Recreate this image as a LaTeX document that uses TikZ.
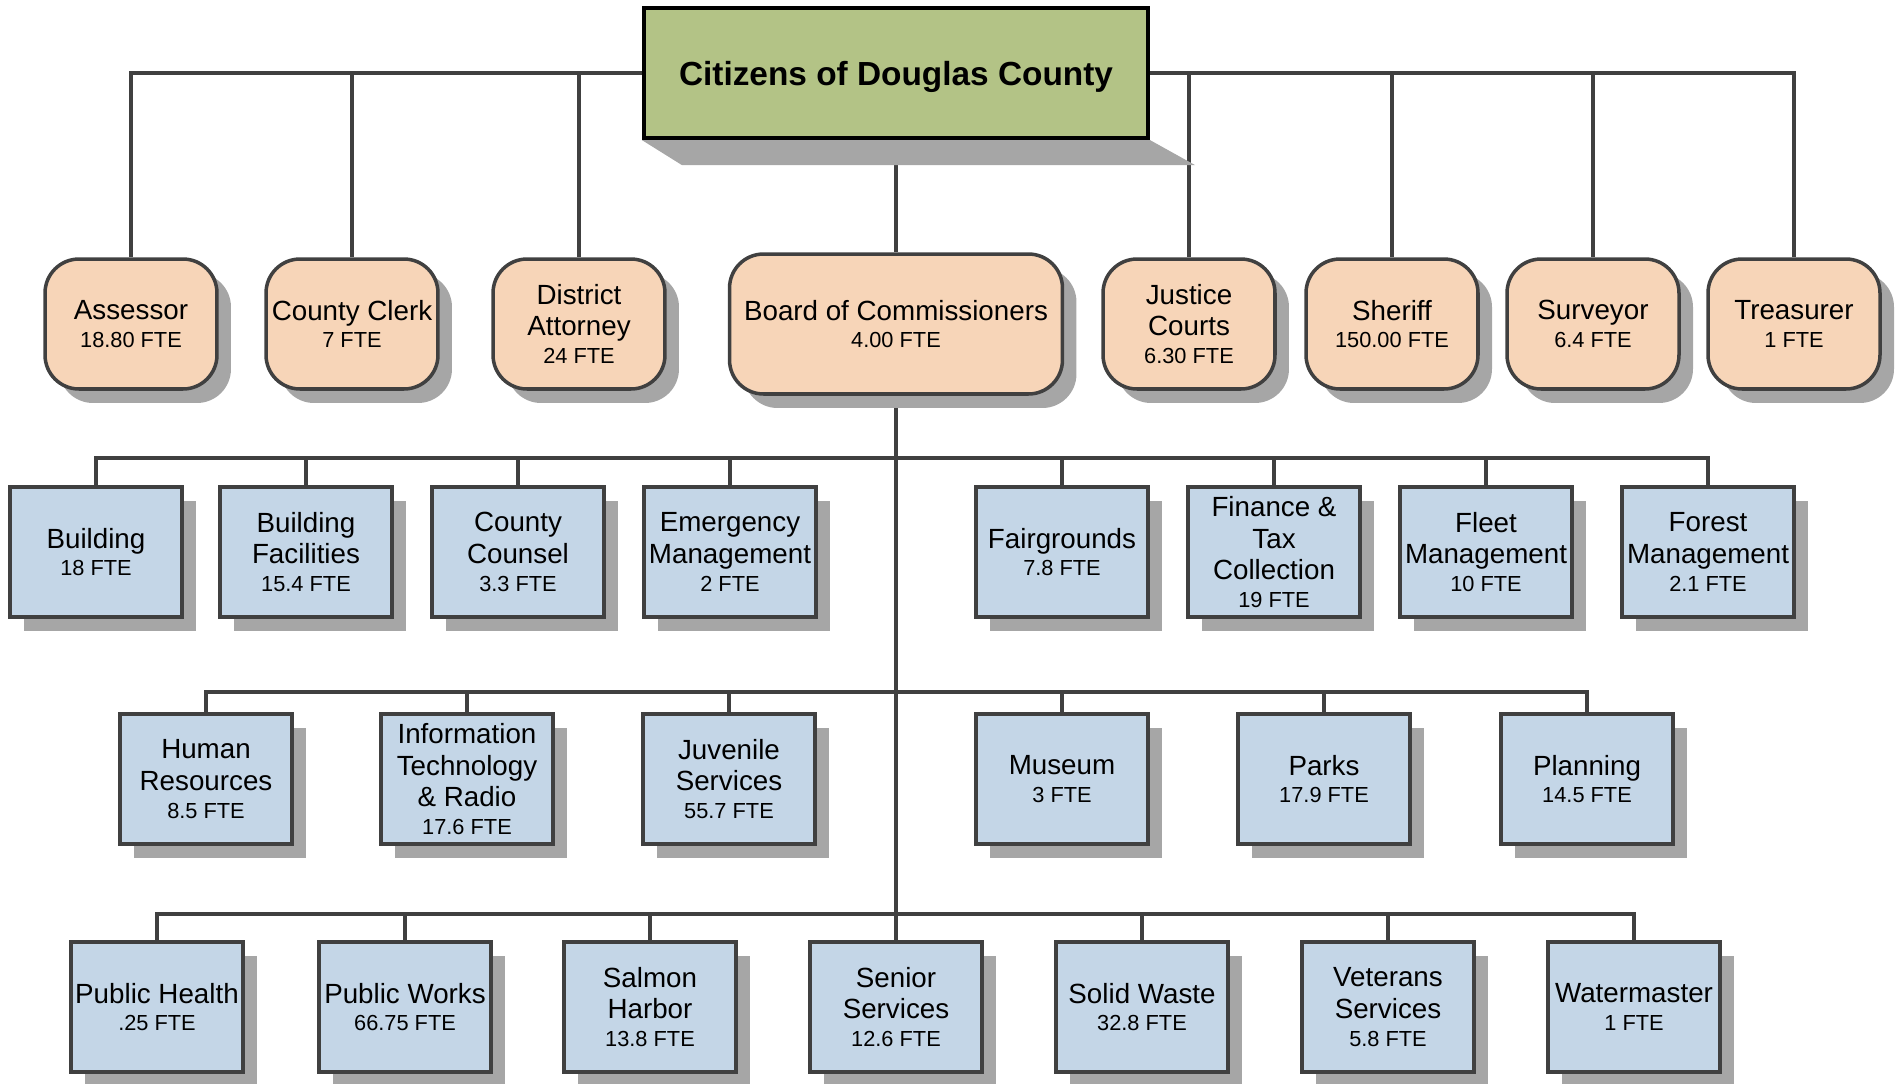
\documentclass[tikz,border=0pt]{standalone}
\usepackage{fontspec}
\setmainfont{Liberation Sans}
\usetikzlibrary{shadows,backgrounds}
\definecolor{officefill}{RGB}{247,213,184}
\definecolor{deptfill}{RGB}{196,214,231}
\definecolor{citizenfill}{RGB}{179,195,134}
\definecolor{linegray}{RGB}{64,64,64}
\definecolor{shadowgray}{RGB}{166,166,166}
\newcommand{\ftesize}{\fontsize{12.4}{14}\selectfont}

\begin{document}
\begin{tikzpicture}[x=0.02cm,y=-0.02cm]
    \tikzstyle{box} = [rectangle, draw=linegray, line width=2pt, text centered, align=center, inner sep=1pt, minimum width=3.44cm, minimum height=2.6cm, font=\fontsize{15.8}{17.9}\selectfont, drop shadow={shadow xshift=0.28cm, shadow yshift=-0.28cm, fill=shadowgray, opacity=1}]
    \tikzstyle{office} = [box, fill=officefill, rounded corners=0.68cm]
    \tikzstyle{dept} = [box, fill=deptfill]
    \tikzstyle{connector} = [draw=linegray, line width=2pt]

    \useasboundingbox (0,0) rectangle (1899,1083);

    \node (citizens) [rectangle, draw=black, line width=2.4pt, fill=citizenfill, minimum width=10.08cm, minimum height=2.6cm, text depth=0pt, font=\bfseries\fontsize{19}{22}\selectfont] at (896,73) {Citizens of Douglas County};

    % elected offices
    \node (assessor) [office] at (131,324) {Assessor\\[-2.1pt]\ftesize 18.80 FTE};
    \node (clerk) [office] at (352,324) {County Clerk\\[-2.1pt]\ftesize 7 FTE};
    \node (da) [office] at (579,324) {District\\Attorney\\[-2.1pt]\ftesize 24 FTE};
    \node (board) [office, minimum width=6.66cm, minimum height=2.8cm] at (896,324) {Board of Commissioners\\[-2.1pt]\ftesize 4.00 FTE};
    \node (justice) [office] at (1189,324) {Justice\\Courts\\[-2.1pt]\ftesize 6.30 FTE};
    \node (sheriff) [office] at (1392,324) {Sheriff\\[-2.1pt]\ftesize 150.00 FTE};
    \node (surveyor) [office] at (1593,324) {Surveyor\\[-2.1pt]\ftesize 6.4 FTE};
    \node (treasurer) [office] at (1794,324) {Treasurer\\[-2.1pt]\ftesize 1 FTE};

    % departments
    \node (building) [dept] at (96,552) {Building\\[-2.1pt]\ftesize 18 FTE};
    \node (facilities) [dept] at (306,552) {Building\\Facilities\\[-2.1pt]\ftesize 15.4 FTE};
    \node (counsel) [dept] at (518,552) {County\\Counsel\\[-2.1pt]\ftesize 3.3 FTE};
    \node (emergency) [dept] at (730,552) {Emergency\\Management\\[-2.1pt]\ftesize 2 FTE};
    \node (fair) [dept] at (1062,552) {Fairgrounds\\[-2.1pt]\ftesize 7.8 FTE};
    \node (finance) [dept] at (1274,552) {Finance \&\\Tax\\Collection\\[-2.1pt]\ftesize 19 FTE};
    \node (fleet) [dept] at (1486,552) {Fleet\\Management\\[-2.1pt]\ftesize 10 FTE};
    \node (forest) [dept] at (1708,552) {Forest\\Management\\[-2.1pt]\ftesize 2.1 FTE};

    \node (hr) [dept] at (206,779) {Human\\Resources\\[-2.1pt]\ftesize 8.5 FTE};
    \node (it) [dept] at (467,779) {Information\\Technology\\\& Radio\\[-2.1pt]\ftesize 17.6 FTE};
    \node (juvenile) [dept] at (729,779) {Juvenile\\Services\\[-2.1pt]\ftesize 55.7 FTE};
    \node (museum) [dept] at (1062,779) {Museum\\[-2.1pt]\ftesize 3 FTE};
    \node (parks) [dept] at (1324,779) {Parks\\[-2.1pt]\ftesize 17.9 FTE};
    \node (planning) [dept] at (1587,779) {Planning\\[-2.1pt]\ftesize 14.5 FTE};

    \node (health) [dept] at (157,1007) {Public Health\\[-2.1pt]\ftesize .25 FTE};
    \node (works) [dept] at (405,1007) {Public Works\\[-2.1pt]\ftesize 66.75 FTE};
    \node (salmon) [dept] at (650,1007) {Salmon\\Harbor\\[-2.1pt]\ftesize 13.8 FTE};
    \node (senior) [dept] at (896,1007) {Senior\\Services\\[-2.1pt]\ftesize 12.6 FTE};
    \node (waste) [dept] at (1142,1007) {Solid Waste\\[-2.1pt]\ftesize 32.8 FTE};
    \node (veterans) [dept] at (1388,1007) {Veterans\\Services\\[-2.1pt]\ftesize 5.8 FTE};
    \node (water) [dept] at (1634,1007) {Watermaster\\[-2.1pt]\ftesize 1 FTE};

    \coordinate (bus2) at (896,458);
    \coordinate (bus3) at (896,692);
    \coordinate (bus4) at (896,914);

    \begin{scope}[on background layer]
        \draw [connector] (citizens) -| (assessor.north);
        \draw [connector] (citizens) -| (clerk.north);
        \draw [connector] (citizens) -| (da.north);
        \draw [connector] (citizens) -| (justice.north);
        \draw [connector] (citizens) -| (sheriff.north);
        \draw [connector] (citizens) -| (surveyor.north);
        \draw [connector] (citizens) -| (treasurer.north);
        \draw [connector] (citizens) -- (board);
        \draw [connector] (board) -- (senior);

        \draw [connector] (building.north) |- (bus2);
        \draw [connector] (facilities.north) |- (bus2);
        \draw [connector] (counsel.north) |- (bus2);
        \draw [connector] (emergency.north) |- (bus2);
        \draw [connector] (fair.north) |- (bus2);
        \draw [connector] (finance.north) |- (bus2);
        \draw [connector] (fleet.north) |- (bus2);
        \draw [connector] (forest.north) |- (bus2);

        \draw [connector] (hr.north) |- (bus3);
        \draw [connector] (it.north) |- (bus3);
        \draw [connector] (juvenile.north) |- (bus3);
        \draw [connector] (museum.north) |- (bus3);
        \draw [connector] (parks.north) |- (bus3);
        \draw [connector] (planning.north) |- (bus3);

        \draw [connector] (health.north) |- (bus4);
        \draw [connector] (works.north) |- (bus4);
        \draw [connector] (salmon.north) |- (bus4);
        \draw [connector] (waste.north) |- (bus4);
        \draw [connector] (veterans.north) |- (bus4);
        \draw [connector] (water.north) |- (bus4);

        % slanted shadow under the title
        \fill [shadowgray] (citizens.south west) -- ([xshift=0.8cm,yshift=-0.5cm]citizens.south west) -- ([xshift=0.9cm,yshift=-0.5cm]citizens.south east) -- (citizens.south east) -- cycle;
    \end{scope}
\end{tikzpicture}
\end{document}
